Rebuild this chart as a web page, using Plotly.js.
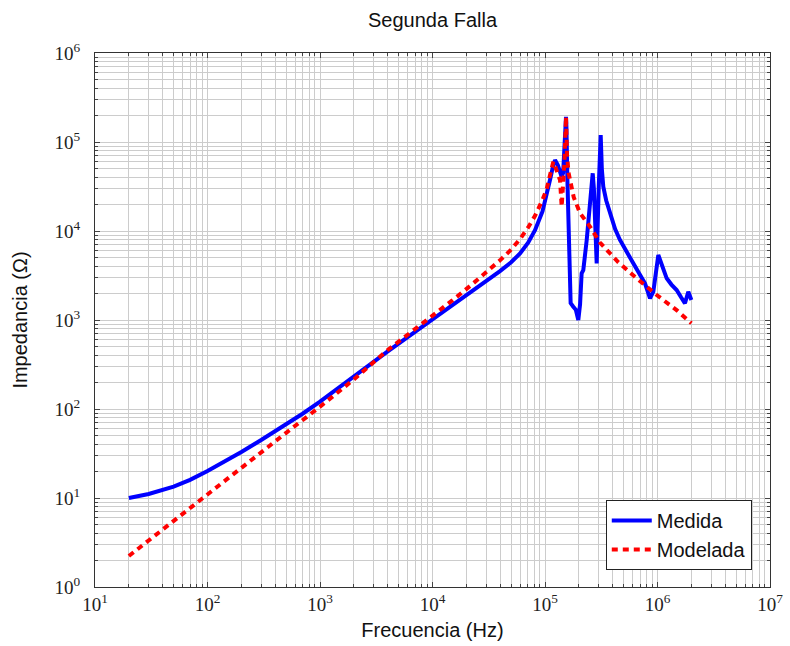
<!DOCTYPE html>
<html>
<head>
<meta charset="utf-8">
<script src="https://cdn.plot.ly/plotly-3.0.1.min.js"></script>
<style>html,body{margin:0;padding:0;background:#fff;}#chart{width:790px;height:646px;}</style>
</head>
<body>
<div id="chart"></div>
<script>
// Measured impedance (Medida)
var freqMedida = [20, 30, 50, 70, 100, 150, 200, 300, 500, 700, 1000, 2000, 4000, 10000, 15000, 21500, 30000, 39800, 50000, 60000, 70800, 81500, 95000, 104700, 110600, 117500, 122700, 130000, 136000, 140600, 145000, 150000, 153700, 155000, 158000, 162000, 169000, 178500, 188000, 197700, 205000, 211700, 219000, 235000, 255000, 265500, 272000, 280000, 288000, 300000, 312600, 320000, 329700, 350000, 378000, 420000, 464000, 530000, 609000, 690000, 774000, 858000, 918000, 1017000, 1100000, 1207000, 1330000, 1480000, 1620000, 1755000, 1878000, 2000000];
var zMedida = [10, 11.1, 13.4, 16, 20.1, 26.7, 32.9, 44.8, 67, 88.5, 121, 233, 445, 1014, 1460, 2015, 2720, 3540, 4450, 5580, 7400, 10200, 16600, 26300, 37200, 52500, 62800, 55000, 45000, 40700, 45000, 100000, 192000, 150000, 40000, 8000, 1550, 1410, 1300, 1000, 1500, 3350, 3640, 8000, 22000, 44500, 30000, 12000, 4330, 30000, 120000, 50000, 31500, 22000, 15800, 10500, 7930, 5800, 4330, 3300, 2580, 1750, 2080, 5370, 4100, 2940, 2500, 2170, 1800, 1540, 2080, 1680];

// Modelled impedance (Modelada)
var freqModelada = [20, 50, 100, 200, 500, 1000, 2000, 4000, 10000, 15000, 21500, 30000, 39800, 50000, 60000, 70800, 81500, 95000, 103500, 107000, 112000, 118600, 124000, 130000, 136000, 140700, 145000, 149000, 153700, 157000, 162000, 166800, 180000, 204700, 251000, 308000, 449000, 653000, 984000, 1480000, 2000000];
var zModelada = [2.23, 5.55, 11.1, 22, 54, 106, 215, 460, 1100, 1660, 2400, 3390, 4680, 6170, 8130, 10960, 14800, 22400, 29500, 35500, 46000, 60100, 52000, 44000, 37400, 18800, 30000, 60000, 192000, 70000, 45000, 37400, 24000, 15900, 11200, 7400, 4450, 2940, 1910, 1290, 920];

var seriesNames = ["Medida", "Modelada"];
var chartTitle = "Segunda Falla";
var xTitle = "Frecuencia (Hz)";
var yTitle = "Impedancia (Ω)";
var xTickVals = [10, 100, 1000, 10000, 100000, 1000000, 10000000];
var xTickText = ["10<sup>1</sup>", "10<sup>2</sup>", "10<sup>3</sup>", "10<sup>4</sup>", "10<sup>5</sup>", "10<sup>6</sup>", "10<sup>7</sup>"];
var yTickVals = [1, 10, 100, 1000, 10000, 100000, 1000000];
var yTickText = ["10<sup>0</sup>", "10<sup>1</sup>", "10<sup>2</sup>", "10<sup>3</sup>", "10<sup>4</sup>", "10<sup>5</sup>", "10<sup>6</sup>"];

function minorVals(lo, hi) {
  var out = [];
  for (var d = lo; d < hi; d++) {
    for (var m = 2; m <= 9; m++) out.push(m * Math.pow(10, d));
  }
  return out;
}

var gridCol = "#cccccc";
var sansFont = "Liberation Sans, Arial, sans-serif";
var tickFont = {family: "Liberation Serif, DejaVu Serif, serif", size: 19, color: "#222"};

function axisBase(range, tv, tt, mv) {
  return {
    type: "log",
    range: range,
    tickmode: "array",
    tickvals: tv,
    ticktext: tt,
    tickfont: tickFont,
    showgrid: true,
    gridcolor: gridCol,
    gridwidth: 1,
    ticks: "inside",
    ticklen: 5,
    tickcolor: "#444",
    showline: true,
    linecolor: "#333",
    linewidth: 1,
    mirror: "allticks",
    zeroline: false,
    automargin: false,
    minor: {
      tickmode: "array",
      tickvals: mv,
      showgrid: true,
      gridcolor: gridCol,
      gridwidth: 1,
      ticks: "inside",
      ticklen: 3,
      tickcolor: "#444"
    }
  };
}

var xaxis = axisBase([1, 7], xTickVals, xTickText, minorVals(1, 7));
xaxis.title = {text: xTitle, font: {family: sansFont, size: 20, color: "#111"}, standoff: 9};
var yaxis = axisBase([0, 6], yTickVals, yTickText, minorVals(0, 6));
yaxis.ticklabelstandoff = 10;
yaxis.title = {text: yTitle, font: {family: sansFont, size: 20, color: "#111"}, standoff: 21};

var traces = [
  {x: freqMedida, y: zMedida, name: seriesNames[0], type: "scatter", mode: "lines",
   line: {color: "#0000ff", width: 4}},
  {x: freqModelada, y: zModelada, name: seriesNames[1], type: "scatter", mode: "lines",
   line: {color: "#ff0000", width: 4, dash: "6px,5px"}}
];

var layout = {
  width: 790, height: 646,
  margin: {l: 95, r: 20, t: 53, b: 59},
  paper_bgcolor: "#fff", plot_bgcolor: "#fff",
  title: {text: chartTitle, font: {family: sansFont, size: 20, color: "#111"},
          x: 0.5475, xanchor: "center", y: 1 - 20 / 646, yanchor: "middle", yref: "container"},
  xaxis: xaxis,
  yaxis: yaxis,
  showlegend: true,
  legend: {x: 0.973, y: 0.032, xanchor: "right", yanchor: "bottom",
           bgcolor: "#fff", bordercolor: "#222", borderwidth: 1,
           font: {family: sansFont, size: 20, color: "#111"},
           tracegroupgap: 0, itemwidth: 40}
};

Plotly.newPlot("chart", traces, layout, {displayModeBar: false, staticPlot: true});
</script>
</body>
</html>
